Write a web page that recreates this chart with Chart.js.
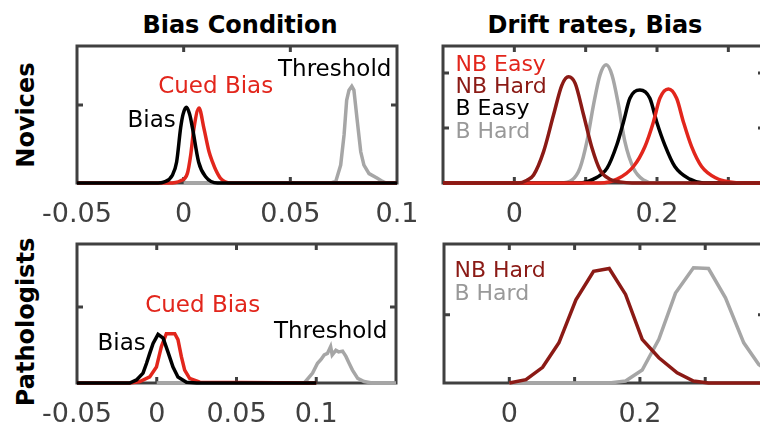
<!DOCTYPE html>
<html lang="en">
<head>
<meta charset="UTF-8" />
<title>Bias Condition / Drift rates, Bias</title>
<script src="https://cdn.jsdelivr.net/npm/chart.js"></script>
<style>
  * { box-sizing: border-box; margin: 0; padding: 0; }
  body {
    width: 760px; height: 424px; overflow: hidden;
    background: #fff; position: relative;
    font-family: 'DejaVu Sans', sans-serif;
  }
  canvas { position: absolute; }
  .title {
    position: absolute; width: 400px; text-align: center;
    font-weight: bold; font-size: 24px; line-height: 24px; color: #000;
  }
  .row {
    position: absolute; width: 200px; text-align: center;
    font-weight: bold; font-size: 24px; line-height: 24px; color: #000;
    transform: rotate(-90deg);
  }
</style>
</head>
<body>
<div class="title" style="left:40px; top:13px;">Bias Condition</div>
<div class="title" style="left:395px; top:13px;">Drift rates, Bias</div>
<div class="row" style="left:-74px; top:103px;">Novices</div>
<div class="row" style="left:-74px; top:310px;">Pathologists</div>

<canvas id="tl" width="430" height="230" style="left:0; top:0;"></canvas>
<canvas id="tr" width="400" height="230" style="left:420px; top:0;"></canvas>
<canvas id="bl" width="430" height="230" style="left:0; top:210px;"></canvas>
<canvas id="br" width="400" height="230" style="left:420px; top:210px;"></canvas>

<script>
  const RED = '#e2261c', DARK = '#8b1a15', GRAY = '#a6a6a6', AXIS = '#404040';

  // Novices - bias condition (posterior densities)
  const novBiasX  = [-0.05, -0.012, -0.0094, -0.0053, -0.0033, -0.0014, -0.0003, 0.0013, 0.0028, 0.0041, 0.0070, 0.0103, 0.0159, 0.1];
  const novBiasY  = [0, 0, 0.01, 0.10, 0.27, 0.71, 0.88, 0.97, 0.88, 0.71, 0.27, 0.08, 0, 0];
  const novCuedX  = [-0.05, -0.007, -0.0014, 0.0017, 0.0033, 0.0048, 0.0072, 0.0095, 0.0119, 0.0135, 0.015, 0.0173, 0.022, 0.1];
  const novCuedY  = [0, 0, 0.03, 0.12, 0.36, 0.70, 0.96, 0.70, 0.40, 0.27, 0.17, 0.06, 0, 0];
  const novThrX   = [0, 0.069, 0.0713, 0.0736, 0.0752, 0.0764, 0.0775, 0.0788, 0.0798, 0.0814, 0.083, 0.0845, 0.0869, 0.0908, 0.0932, 0.095, 0.1];
  const novThrY   = [0, 0, 0.02, 0.23, 0.62, 1.06, 1.19, 1.24, 1.19, 0.79, 0.40, 0.23, 0.12, 0.06, 0.02, 0, 0];

  // Novices - drift rates
  const novNbEasyX = [-0.1, 0.12, 0.144, 0.167, 0.183, 0.195, 0.204, 0.216, 0.2275, 0.237, 0.2485, 0.2625, 0.2835, 0.302, 0.32, 0.35];
  const novNbEasyY = [0, 0, 0.7, 3.0, 6.6, 11.1, 15.4, 17.1, 15.4, 11.1, 6.6, 3.0, 0.85, 0.2, 0, 0];
  const novNbHardX = [-0.1, 0.005, 0.0178, 0.027, 0.041, 0.055, 0.0667, 0.076, 0.0853, 0.097, 0.109, 0.120, 0.134, 0.148, 0.165, 0.35];
  const novNbHardY = [0, 0, 0.5, 1.45, 5.7, 12.4, 17.8, 19.3, 18.1, 12.4, 6.3, 2.4, 0.67, 0.2, 0, 0];
  const novBEasyX  = [-0.1, 0.09, 0.111, 0.130, 0.1436, 0.153, 0.162, 0.176, 0.190, 0.1996, 0.211, 0.225, 0.246, 0.265, 0.35];
  const novBEasyY  = [0, 0, 0.7, 2.7, 6.9, 11.1, 15.4, 16.9, 15.4, 11.1, 6.9, 3.0, 0.7, 0, 0];
  const novBHardX  = [-0.1, 0.065, 0.081, 0.092, 0.1017, 0.111, 0.120, 0.1287, 0.137, 0.146, 0.155, 0.167, 0.181, 0.195, 0.35];
  const novBHardY  = [0, 0, 0.55, 2.7, 7.5, 14.2, 19.6, 21.5, 19.6, 14.2, 7.5, 2.7, 0.55, 0, 0];

  // Pathologists - bias condition
  const patBiasX = [-0.05, -0.017, -0.0127, -0.0086, -0.0064, -0.0044, -0.0023, 0.0008, 0.004, 0.007, 0.0102, 0.0133, 0.0186, 0.025, 0.1];
  const patBiasY = [0, 0, 0.04, 0.13, 0.26, 0.39, 0.52, 0.64, 0.59, 0.41, 0.21, 0.08, 0.01, 0, 0];
  const patCuedX = [-0.05, -0.017, -0.0106, -0.0044, -0.0002, 0.0029, 0.006, 0.0113, 0.0133, 0.0154, 0.0175, 0.0206, 0.027, 0.1];
  const patCuedY = [0, 0, 0.02, 0.08, 0.21, 0.48, 0.65, 0.65, 0.57, 0.35, 0.17, 0.06, 0.01, 0];
  const patThrX  = [0, 0.0925, 0.0977, 0.1008, 0.103, 0.105, 0.107, 0.109, 0.110, 0.1123, 0.114, 0.1165, 0.1186, 0.1206, 0.1227, 0.126, 0.130, 0.135, 0.15];
  const patThrY  = [0, 0, 0.13, 0.26, 0.31, 0.37, 0.39, 0.48, 0.37, 0.43, 0.41, 0.42, 0.35, 0.26, 0.17, 0.06, 0.02, 0, 0];

  // Pathologists - drift rates
  const patNbHardX = [0, 0.0255, 0.051, 0.076, 0.102, 0.129, 0.153, 0.178, 0.2035, 0.229, 0.257, 0.282, 0.305, 0.42];
  const patNbHardY = [0, 0.05, 0.23, 0.59, 1.22, 1.64, 1.68, 1.30, 0.64, 0.37, 0.15, 0.03, 0, 0];
  const patBHardX  = [0, 0.153, 0.178, 0.2035, 0.229, 0.2545, 0.282, 0.305, 0.331, 0.359, 0.382, 0.407];
  const patBHardY  = [0, 0, 0.03, 0.19, 0.64, 1.32, 1.69, 1.68, 1.25, 0.59, 0.27, 0.10];

  // tick labels
  const biasTicks  = [-0.05, 0, 0.05, 0.1];
  const biasLabels = ['-0.05', '0', '0.05', '0.1'];
  const driftTicks  = [0, 0.2];
  const driftLabels = ['0', '0.2'];

  function pts(xs, ys) {
    return xs.map((x, i) => ({ x: x, y: ys[i] }));
  }

  function line(xs, ys, color, smooth) {
    return {
      data: pts(xs, ys),
      borderColor: color,
      borderWidth: 3.5,
      pointRadius: 0,
      tension: 0,
      cubicInterpolationMode: smooth ? 'monotone' : 'default',
      clip: 4
    };
  }

  // box, inward tick marks and text notes
  const framePlugin = {
    id: 'frame',
    beforeDatasetsDraw(chart, args, o) {
      const { ctx, chartArea: a, scales } = chart;
      ctx.save();
      ctx.strokeStyle = AXIS;
      ctx.lineWidth = 3;
      ctx.strokeRect(a.left, a.top, a.right - a.left, a.bottom - a.top);
      ctx.beginPath();
      o.xMarks.forEach(v => {
        const px = scales.x.getPixelForValue(v);
        ctx.moveTo(px, a.top); ctx.lineTo(px, a.top + 6);
        ctx.moveTo(px, a.bottom); ctx.lineTo(px, a.bottom - 6);
      });
      o.yMarks.forEach(v => {
        const py = scales.y.getPixelForValue(v);
        ctx.moveTo(a.left, py); ctx.lineTo(a.left + 6, py);
        ctx.moveTo(a.right, py); ctx.lineTo(a.right - 6, py);
      });
      ctx.stroke();
      ctx.restore();
    },
    afterDatasetsDraw(chart, args, o) {
      const { ctx, scales } = chart;
      ctx.save();
      ctx.textBaseline = 'alphabetic';
      o.notes.forEach(n => {
        ctx.font = n.size + "px 'DejaVu Sans'";
        ctx.fillStyle = n.color;
        ctx.textAlign = n.align || 'center';
        ctx.fillText(n.text, scales.x.getPixelForValue(n.x), scales.y.getPixelForValue(n.y));
      });
      ctx.restore();
    }
  };

  function makeChart(id, pad, xMin, xMax, yMax, ticks, labels, datasets, frame) {
    return new Chart(document.getElementById(id), {
      type: 'line',
      data: { datasets: datasets },
      options: {
        responsive: false,
        animation: false,
        layout: { padding: pad },
        plugins: {
          legend: { display: false },
          tooltip: { enabled: false },
          frame: frame
        },
        scales: {
          x: {
            type: 'linear',
            min: xMin,
            max: xMax,
            afterBuildTicks: s => { s.ticks = ticks.map(v => ({ value: v })); },
            afterFit: s => { s.height = 45; },
            grid: { display: false, drawTicks: false },
            border: { display: false },
            ticks: {
              autoSkip: false,
              maxRotation: 0,
              padding: 10,
              color: AXIS,
              font: { family: 'DejaVu Sans', size: 27, lineHeight: 1.65 },
              callback: (v, i) => labels[i]
            }
          },
          y: { display: false, min: 0, max: yMax }
        }
      },
      plugins: [framePlugin]
    });
  }

  makeChart('tl', { left: 77, top: 46, right: 33, bottom: 2 }, -0.05, 0.1, 1.756, biasTicks, biasLabels, [
    line(novBiasX, novBiasY, '#000', true),
    line(novCuedX, novCuedY, RED, true),
    line(novThrX, novThrY, GRAY, false)
  ], {
    xMarks: [0, 0.05], yMarks: [1],
    notes: [
      { text: 'Bias', x: -0.015, y: 0.718, color: '#000', size: 23 },
      { text: 'Cued Bias', x: 0.015, y: 1.154, color: RED, size: 23 },
      { text: 'Threshold', x: 0.0708, y: 1.372, color: '#000', size: 23 }
    ]
  });

  makeChart('tr', { left: 23, top: 46, right: 56, bottom: 2 }, -0.1, 0.35, 24.9, driftTicks, driftLabels, [
    line(novNbHardX, novNbHardY, DARK, true),
    line(novNbEasyX, novNbEasyY, RED, true),
    line(novBEasyX, novBEasyY, '#000', true),
    line(novBHardX, novBHardY, GRAY, true)
  ], {
    xMarks: [0, 0.1, 0.2, 0.3], yMarks: [10, 20],
    notes: [
      { text: 'NB Easy', x: -0.0825, y: 20.4, color: RED, size: 22, align: 'left' },
      { text: 'NB Hard', x: -0.0825, y: 16.4, color: DARK, size: 22, align: 'left' },
      { text: 'B Easy', x: -0.0825, y: 12.4, color: '#000', size: 22, align: 'left' },
      { text: 'B Hard', x: -0.0825, y: 8.2, color: '#999', size: 22, align: 'left' }
    ]
  });

  makeChart('bl', { left: 77, top: 34, right: 34, bottom: 12 }, -0.05, 0.15, 1.83, biasTicks, biasLabels, [
    line(patBiasX, patBiasY, '#000', false),
    line(patCuedX, patCuedY, RED, false),
    line(patThrX, patThrY, GRAY, false)
  ], {
    xMarks: [0, 0.05, 0.1], yMarks: [1],
    notes: [
      { text: 'Bias', x: -0.022, y: 0.434, color: '#000', size: 23 },
      { text: 'Cued Bias', x: 0.0288, y: 0.934, color: RED, size: 23 },
      { text: 'Threshold', x: 0.109, y: 0.592, color: '#000', size: 23 }
    ]
  });

  makeChart('br', { left: 24, top: 34, right: 56, bottom: 12 }, -0.1, 0.39, 2.04, driftTicks, driftLabels, [
    line(patNbHardX, patNbHardY, DARK, false),
    line(patBHardX, patBHardY, GRAY, false)
  ], {
    xMarks: [0, 0.1, 0.2, 0.3], yMarks: [1],
    notes: [
      { text: 'NB Hard', x: -0.084, y: 1.56, color: DARK, size: 22, align: 'left' },
      { text: 'B Hard', x: -0.084, y: 1.22, color: '#999', size: 22, align: 'left' }
    ]
  });
</script>
</body>
</html>
